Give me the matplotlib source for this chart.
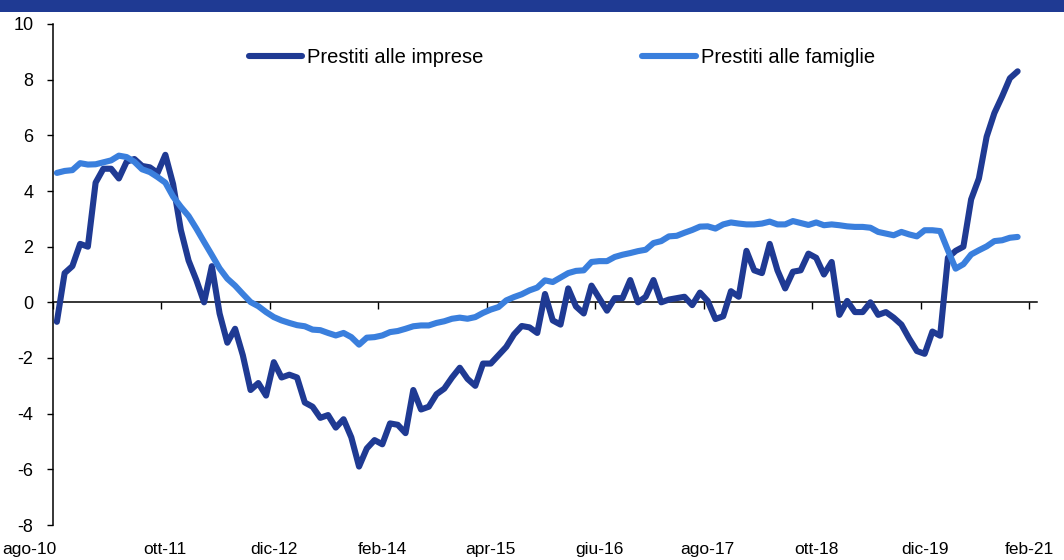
import numpy as np
import matplotlib
matplotlib.use("Agg")
import matplotlib.pyplot as plt
from matplotlib import font_manager
from matplotlib.transforms import ScaledTranslation
from matplotlib.patches import Rectangle

# ---------------- data ----------------
imprese = [-0.7, 1.05, 1.3, 2.1, 2.0, 4.3, 4.8, 4.8, 4.45, 5.05,
           5.15, 4.9, 4.85, 4.65, 5.3, 4.25, 2.6, 1.5, 0.8, 0.0,
           1.3, -0.4, -1.45, -0.95, -1.9, -3.15, -2.9, -3.35, -2.15, -2.7,
           -2.6, -2.7, -3.6, -3.75, -4.15, -4.05, -4.5, -4.2, -4.85, -5.9,
           -5.25, -4.95, -5.1, -4.35, -4.4, -4.7, -3.15, -3.85, -3.75, -3.3,
           -3.1, -2.7, -2.35, -2.75, -3.0, -2.2, -2.2, -1.9, -1.6, -1.15,
           -0.85, -0.9, -1.1, 0.3, -0.65, -0.8, 0.5, -0.15, -0.4, 0.6,
           0.15, -0.3, 0.15, 0.15, 0.8, 0.0, 0.2, 0.8, 0.0, 0.1,
           0.15, 0.2, -0.1, 0.35, 0.05, -0.6, -0.5, 0.4, 0.2, 1.85,
           1.15, 1.05, 2.1, 1.15, 0.5, 1.1, 1.15, 1.75, 1.6, 1.0,
           1.45, -0.45, 0.05, -0.35, -0.35, 0.0, -0.45, -0.35, -0.55, -0.8,
           -1.3, -1.75, -1.85, -1.05, -1.2, 1.6, 1.85, 2.0, 3.7, 4.45,
           5.95, 6.8, 7.4, 8.05, 8.3]

famiglie = [4.65, 4.72, 4.75, 5.0, 4.95, 4.96, 5.03, 5.1, 5.27, 5.22,
            5.05, 4.78, 4.68, 4.5, 4.3, 3.8, 3.43, 3.1, 2.65, 2.17,
            1.7, 1.22, 0.85, 0.6, 0.3, 0.01, -0.14, -0.35, -0.53, -0.65,
            -0.74, -0.82, -0.86, -0.98, -1.0, -1.1, -1.19, -1.1, -1.25, -1.52,
            -1.27, -1.25, -1.19, -1.07, -1.03, -0.95, -0.86, -0.83, -0.83, -0.74,
            -0.68, -0.59, -0.55, -0.59, -0.53, -0.38, -0.26, -0.17, 0.07, 0.19,
            0.29, 0.43, 0.53, 0.79, 0.73, 0.89, 1.05, 1.13, 1.15, 1.45,
            1.48, 1.48, 1.63, 1.71, 1.77, 1.84, 1.89, 2.13, 2.2, 2.37,
            2.39, 2.5, 2.6, 2.72, 2.73, 2.65, 2.8, 2.87, 2.83, 2.8,
            2.8, 2.83, 2.9, 2.8, 2.8, 2.92, 2.85, 2.78, 2.87, 2.77,
            2.8, 2.77, 2.73, 2.71, 2.71, 2.68, 2.53, 2.47, 2.41, 2.53,
            2.44, 2.37, 2.59, 2.59, 2.56, 1.87, 1.21, 1.37, 1.72, 1.87,
            2.01, 2.2, 2.23, 2.32, 2.35]

tick_labels = ["ago-10", "ott-11", "dic-12", "feb-14", "apr-15",
               "giu-16", "ago-17", "ott-18", "dic-19", "feb-21"]
n_categories = 127          # ago-10 ... feb-21
tick_step = 14
series_names = ["Prestiti alle imprese", "Prestiti alle famiglie"]

# ---------------- style ----------------
DARK = "#1f3a93"
LIGHT = "#3a7fdd"

avail = {f.name for f in font_manager.fontManager.ttflist}
def pick(*names):
    return [n for n in names if n in avail] + ["DejaVu Sans"]

main_font = pick("Liberation Sans", "Arial")
narrow_font = pick("Liberation Sans Narrow", "Liberation Sans")
plt.rcParams["font.family"] = main_font
plt.rcParams["axes.unicode_minus"] = False

fig = plt.figure(figsize=(10.64, 5.6), dpi=100)
ax = fig.add_axes([53 / 1064, 35 / 560, 984 / 1064, 501 / 560])

# header band
fig.patches.append(Rectangle((0, 1 - 12 / 560), 1, 12 / 560, transform=fig.transFigure,
                             facecolor=DARK, edgecolor="none", zorder=0))

x = np.arange(len(imprese)) + 0.5
lw = 4.4
ax.plot(x, imprese, color=DARK, lw=lw, solid_joinstyle="round",
        solid_capstyle="round", label=series_names[0], zorder=3)
ax.plot(x, famiglie, color=LIGHT, lw=lw, solid_joinstyle="round",
        solid_capstyle="round", label=series_names[1], zorder=3)

ax.set_xlim(0, n_categories)
ax.set_ylim(-8, 10)
ax.set_yticks(np.arange(-8, 11, 2))
ax.tick_params(axis="y", direction="out", length=4, width=1, labelsize=13,
               pad=10, colors="black")

for s in ["top", "right"]:
    ax.spines[s].set_visible(False)
ax.spines["left"].set_linewidth(1.1)
ax.spines["bottom"].set_position(("data", 0))
ax.spines["bottom"].set_linewidth(1.1)
major = np.arange(0, n_categories, tick_step)
ax.set_xticks(major)
ax.set_xticklabels([])
ax.tick_params(axis="x", direction="out", length=5, width=1)

# category labels at bottom
sec = ax.secondary_xaxis("bottom")
sec.spines["bottom"].set_visible(False)
sec.set_xticks(major + 0.5)
sec.set_xticklabels(tick_labels, family=narrow_font, fontsize=12.5)
sec.tick_params(axis="x", length=0, pad=12.5)
first = sec.get_xticklabels()[0]
first.set_transform(first.get_transform() + ScaledTranslation(-27 / 100, 0, fig.dpi_scale_trans))
last = sec.get_xticklabels()[-1]
last.set_transform(last.get_transform() + ScaledTranslation(-4 / 100, 0, fig.dpi_scale_trans))

leg = ax.legend(loc="center", bbox_to_anchor=(0.517, 0.934), ncol=2, frameon=False,
                fontsize=14.5, handlelength=2.65, handletextpad=0.25,
                columnspacing=7.9)

fig.savefig("out.png", dpi=100)
